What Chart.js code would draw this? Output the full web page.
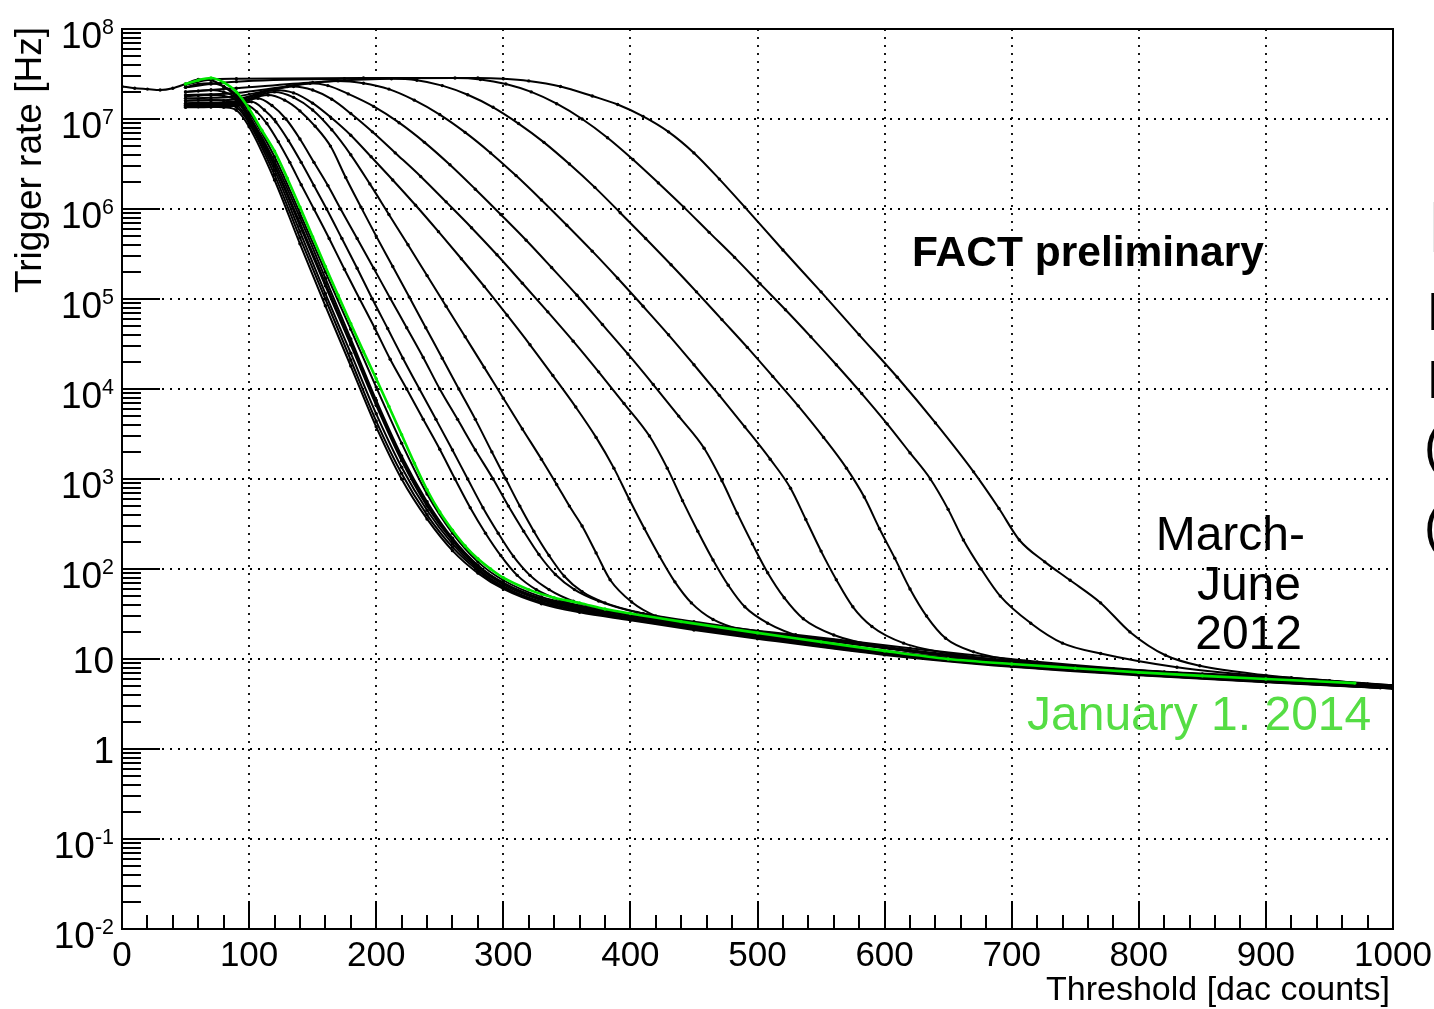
<!DOCTYPE html>
<html>
<head>
<meta charset="utf-8">
<title>FACT trigger rate scans</title>
<script src="https://cdn.jsdelivr.net/npm/chart.js@4.4.1/dist/chart.umd.min.js"></script>
<style>
  html, body { margin: 0; padding: 0; background: #fff; overflow: hidden; }
  #wrap { position: relative; width: 1434px; height: 1009px; overflow: hidden; }
  #rateChart { position: absolute; left: 0; top: 0; }
  .lbl { position: absolute; font-family: "Liberation Sans", Arial, Helvetica, sans-serif; color: #000; white-space: nowrap; line-height: 1; }
  .lbl .ex { position: relative; top: -0.66em; font-size: 0.58em; }
</style>
</head>
<body>
<div id="wrap"><canvas id="rateChart" width="1434" height="1009"></canvas></div>
<script>
// threshold [dac counts], rate [Hz]
const jan2014 = [[50,2.45e7],[60,2.7e7],[70,2.85e7],[80,2.55e7],[90,2.0e7],[100,1.3e7],[110,7.5e6],[120,4.4e6],[130,2.2e6],[140,1.05e6],[150,4.9e5],[160,2.3e5],[170,1.1e5],[180,5.3e4],[190,2.6e4],[200,1.3e4],[210,6.4e3],[220,3.1e3],[230,1.5e3],[240,760],[250,430],[260,270],[270,180],[280,130],[290,100],[300,80],[320,59],[340,48],[360,42],[380,36],[400,32],[440,26],[500,19.5],[550,15.5],[600,12.3],[650,10],[700,8.8],[750,7.9],[800,7.1],[850,6.5],[900,6.0],[970,5.4]];

const dark1 = [[0,2.3e7],[10,2.2e7],[20,2.15e7],[30,2.1e7],[40,2.2e7],[50,2.45e7],[60,2.75e7],[70,2.7e7],[80,2.3e7],[90,1.75e7],[100,1.1e7],[120,3.4e6],[140,8e5],[160,1.7e5],[180,3.6e4],[200,7.5e3],[220,1.8e3],[240,560],[260,220],[280,110],[300,70],[330,47],[360,38],[400,30],[450,23.5],[500,18.5],[600,11.8],[700,8.6],[800,6.9],[900,5.8],[1000,4.8]];
const dark2 = [[50,2.25e7],[60,2.45e7],[70,2.5e7],[80,2.3e7],[90,1.85e7],[100,1.2e7],[120,3.8e6],[140,9e5],[160,2e5],[180,4.6e4],[200,1.05e4],[220,2.5e3],[240,680],[260,250],[280,120],[300,75],[330,49],[360,39],[400,30.5],[450,24],[500,19],[600,12],[700,8.7],[800,7],[900,5.9],[1000,4.9]];
const dark3 = [[50,2.0e7],[60,2.05e7],[70,2.1e7],[80,2.0e7],[90,1.7e7],[100,1.05e7],[120,3.1e6],[140,7e5],[160,1.5e5],[180,3.3e4],[200,7e3],[220,1.7e3],[240,520],[260,210],[280,108],[300,70],[330,46],[360,37],[400,29],[450,23],[500,18.2],[600,11.7],[700,8.5],[800,6.9],[900,5.8],[960,5.2]];
const dark4 = [[50,1.8e7],[60,1.82e7],[70,1.85e7],[80,1.8e7],[90,1.6e7],[100,1.0e7],[120,3.0e6],[140,6.5e5],[160,1.4e5],[180,3.1e4],[200,6.6e3],[220,1.6e3],[240,500],[260,205],[280,105],[300,67],[330,45],[360,36],[400,28.5],[450,22.5],[500,18],[600,11.6],[700,8.5],[800,6.8],[900,5.7],[1000,4.7]];
const dark5 = [[50,1.6e7],[60,1.62e7],[70,1.63e7],[80,1.6e7],[90,1.45e7],[100,9.5e6],[120,2.7e6],[140,5.6e5],[160,1.15e5],[180,2.5e4],[200,5.3e3],[220,1.35e3],[240,450],[260,190],[280,100],[300,64],[330,43],[360,35],[400,28],[450,22],[500,17.6],[600,11.4],[700,8.4],[800,6.7],[900,5.6],[990,4.8]];
const dark6 = [[50,1.48e7],[60,1.5e7],[70,1.5e7],[80,1.47e7],[90,1.35e7],[100,9e6],[120,2.4e6],[140,4.8e5],[160,1e5],[180,2.1e4],[200,4.4e3],[220,1.15e3],[240,400],[260,175],[280,96],[300,62],[330,42],[360,34],[400,27.5],[450,21.5],[500,17.2],[600,11.3],[700,8.3],[800,6.7],[900,5.6],[1000,4.7]];
const dark7 = [[50,1.36e7],[60,1.37e7],[70,1.37e7],[80,1.35e7],[90,1.25e7],[100,8.2e6],[120,2.1e6],[140,4.1e5],[160,8.4e4],[180,1.8e4],[200,3.8e3],[220,1.0e3],[240,360],[260,160],[280,90],[300,60],[330,41],[360,33],[400,27],[450,21],[500,16.8],[600,11.1],[700,8.2],[800,6.6],[900,5.5],[1000,4.7]];

const moon01 = [[50,1.35e7],[70,1.36e7],[90,1.4e7],[97,1.45e7],[106,1.2e7],[114,8.9e6],[123,5.6e6],[132,3.3e6],[141,1.86e6],[151,1e6],[163,4.7e5],[175,2.14e5],[187,1e5],[199,4.7e4],[211,2.14e4],[224,1e4],[237,4.6e3],[250,2.14e3],[262,1e3],[274,480],[286,250],[298,141],[311,85],[326,59],[345,45],[375,35],[410,29],[460,23.4],[520,18.6],[600,13.2],[700,9.1],[800,7.2],[900,6.0],[1000,5.0]];
const moon02 = [[50,1.38e7],[70,1.39e7],[90,1.43e7],[102,1.55e7],[112,1.26e7],[121,9.3e6],[131,5.75e6],[141,3.3e6],[151,1.82e6],[161,1e6],[173,4.7e5],[185,2.2e5],[197,1e5],[209,4.7e4],[221,2.2e4],[234,1e4],[247,4.6e3],[260,2.1e3],[272,1e3],[284,480],[296,250],[308,138],[321,85],[336,59],[355,44],[385,34],[420,28],[470,22.4],[530,17.8],[620,12.3],[720,8.9],[820,7.1],[920,6.0],[1000,5.0]];
const moon03 = [[50,1.4e7],[70,1.41e7],[90,1.46e7],[107,1.7e7],[118,1.41e7],[129,1e7],[140,6.0e6],[151,3.3e6],[162,1.82e6],[172,1e6],[185,4.7e5],[198,2.2e5],[211,1.02e5],[224,4.8e4],[237,2.24e4],[250,1e4],[264,4.6e3],[278,2.1e3],[292,1e3],[304,500],[316,263],[328,145],[341,87],[356,59],[375,44],[405,33],[450,26],[500,20.4],[560,16.2],[650,11.2],[750,8.3],[850,6.8],[950,5.75],[1000,5.1]];
const moon04 = [[50,1.42e7],[70,1.43e7],[90,1.5e7],[115,1.85e7],[128,1.62e7],[140,1.23e7],[152,8.3e6],[164,5.0e6],[176,2.24e6],[188,1.05e6],[200,5.0e5],[213,2.3e5],[226,1.05e5],[239,4.8e4],[252,2.2e4],[265,1e4],[278,4.6e3],[291,2.0e3],[302,1e3],[313,500],[324,263],[336,141],[348,83],[362,56],[380,42],[410,32],[460,24],[530,18.6],[620,13.2],[720,9.3],[820,7.2],[920,6.2],[1000,5.0]];
const moon05 = [[50,1.45e7],[70,1.46e7],[90,1.52e7],[120,2.0e7],[135,1.74e7],[150,1.26e7],[165,7.6e6],[180,4.0e6],[195,1.9e6],[210,8.7e5],[225,4.0e5],[240,1.82e5],[255,8.3e4],[270,3.8e4],[285,1.74e4],[300,7.9e3],[315,3.6e3],[330,1.66e3],[342,870],[352,500],[362,300],[373,151],[384,76],[401,43],[420,30],[450,23],[500,17.8],[580,13.2],[680,9.3],[780,7.2],[880,6.2],[1000,5.0]];
const moon06 = [[50,1.5e7],[70,1.51e7],[90,1.57e7],[105,1.85e7],[120,2.1e7],[135,1.95e7],[150,1.5e7],[164,1.05e7],[180,6.6e6],[196,3.8e6],[213,2.1e6],[231,1.1e6],[249,5.6e5],[267,2.8e5],[285,1.38e5],[303,6.6e4],[321,3.1e4],[339,1.41e4],[357,6.3e3],[373,2.9e3],[387,1.32e3],[399,600],[411,282],[423,138],[435,72],[448,42],[465,27.5],[490,20.5],[535,15.5],[605,11.3],[700,8.8],[800,7.1],[900,6.0],[1000,5.0]];
const moon07 = [[50,1.6e7],[70,1.61e7],[90,1.66e7],[112,2.0e7],[135,2.3e7],[150,2.1e7],[165,1.66e7],[180,1.15e7],[197,7.2e6],[215,4.2e6],[235,2.3e6],[255,1.2e6],[275,6.2e5],[295,3.1e5],[315,1.5e5],[335,7.2e4],[355,3.4e4],[375,1.55e4],[395,6.9e3],[415,3.0e3],[429,1.32e3],[441,575],[453,263],[465,126],[477,66],[490,38],[508,25],[535,17.5],[580,13.3],[650,10.2],[750,7.8],[850,6.5],[950,5.6],[1000,5.1]];
const moon08 = [[50,1.7e7],[70,1.72e7],[90,1.78e7],[120,2.15e7],[148,2.5e7],[162,2.35e7],[178,1.9e7],[198,1.38e7],[218,9.1e6],[238,5.5e6],[258,3.1e6],[278,1.66e6],[298,8.7e5],[318,4.5e5],[338,2.24e5],[358,1.1e5],[378,5.2e4],[398,2.45e4],[418,1.12e4],[438,5.0e3],[458,2.2e3],[472,955],[484,417],[496,190],[508,91],[521,48],[536,28],[560,18.5],[600,13.5],[670,10],[770,7.6],[870,6.3],[980,5.25]];
const moon09 = [[50,1.85e7],[70,1.88e7],[90,1.95e7],[130,2.3e7],[170,2.65e7],[190,2.5e7],[210,2.15e7],[230,1.62e7],[250,1.12e7],[270,7.1e6],[290,4.2e6],[310,2.35e6],[330,1.26e6],[350,6.6e5],[370,3.4e5],[390,1.7e5],[410,8.3e4],[430,4.0e4],[450,1.86e4],[470,8.5e3],[490,3.8e3],[510,1.66e3],[526,790],[538,355],[550,158],[562,76],[575,38],[590,23],[615,15],[660,11],[730,8.6],[830,7.0],[930,5.9],[1000,5.0]];
const moon10 = [[50,2.0e7],[70,2.1e7],[90,2.2e7],[150,2.55e7],[212,2.8e7],[232,2.7e7],[252,2.35e7],[272,1.86e7],[292,1.35e7],[312,8.9e6],[332,5.5e6],[352,3.16e6],[372,1.74e6],[392,9.1e5],[412,4.7e5],[432,2.4e5],[452,1.2e5],[472,5.9e4],[492,2.9e4],[512,1.38e4],[532,6.5e3],[552,2.9e3],[570,1.32e3],[584,630],[596,280],[608,132],[620,60],[633,30],[648,17],[670,12],[710,9.4],[780,7.8],[880,6.3],[980,5.25]];
const moon11 = [[50,2.25e7],[70,2.45e7],[90,2.6e7],[175,2.8e7],[262,2.85e7],[282,2.75e7],[302,2.45e7],[322,2.0e7],[342,1.48e7],[362,1.0e7],[382,6.2e6],[402,3.55e6],[422,1.95e6],[442,1.05e6],[462,5.5e5],[482,2.9e5],[502,1.48e5],[522,7.6e4],[542,3.8e4],[562,1.86e4],[582,8.9e3],[602,4.1e3],[620,1.95e3],[636,1.0e3],[650,460],[662,210],[676,100],[691,50],[715,25],[740,15],[770,11.5],[830,8.1],[930,5.9],[1000,5.0]];
const moon12 = [[50,2.4e7],[70,2.75e7],[90,2.8e7],[190,2.85e7],[280,2.85e7],[300,2.8e7],[320,2.65e7],[345,2.3e7],[370,1.8e7],[390,1.45e7],[410,1.07e7],[430,7.2e6],[450,4.2e6],[470,2.15e6],[490,1.05e6],[520,3.5e5],[550,1.2e5],[580,4e4],[610,1.35e4],[640,4.2e3],[670,1.2e3],[690,470],[706,210],[726,120],[746,75],[770,42],[793,20],[821,11],[848,8.4],[900,6.6],[950,5.7],[1000,5.0]];

const blackNights = [dark1, dark2, dark3, dark4, dark5, dark6, dark7,
  moon01, moon02, moon03, moon04, moon05, moon06, moon07, moon08, moon09, moon10, moon11, moon12];

const xTicks = [0, 100, 200, 300, 400, 500, 600, 700, 800, 900, 1000];
const yDecades = [-2, -1, 0, 1, 2, 3, 4, 5, 6, 7, 8];

function lineSet(pts, color, width) {
  return {
    data: pts.map(p => ({ x: p[0], y: p[1] })),
    borderColor: color,
    borderWidth: width,
    pointRadius: 1.7,
    pointBackgroundColor: color,
    pointBorderWidth: 0,
    pointHoverRadius: 0,
    cubicInterpolationMode: 'monotone',
    fill: false
  };
}

const rootFrame = {
  id: 'rootFrame',
  beforeDatasetsDraw(chart) {
    const { ctx, chartArea: a, scales: { x, y } } = chart;
    ctx.save();
    ctx.strokeStyle = '#000';
    ctx.lineWidth = 1.8;
    ctx.setLineDash([2, 6]);
    ctx.beginPath();
    xTicks.slice(1, -1).forEach(v => {
      const px = Math.round(x.getPixelForValue(v));
      ctx.moveTo(px, a.top); ctx.lineTo(px, a.bottom);
    });
    yDecades.slice(1, -1).forEach(e => {
      const py = Math.round(y.getPixelForValue(Math.pow(10, e)));
      ctx.moveTo(a.left, py); ctx.lineTo(a.right, py);
    });
    ctx.stroke();
    ctx.restore();
  },
  afterDatasetsDraw(chart) {
    const { ctx, chartArea: a, scales: { x, y } } = chart;
    ctx.save();
    ctx.strokeStyle = '#000';
    ctx.setLineDash([]);
    ctx.lineWidth = 2;
    ctx.strokeRect(a.left, a.top, a.right - a.left, a.bottom - a.top);
    ctx.beginPath();
    // x ticks: major every 100, minor every 20, pointing up
    for (let v = 0; v <= 1000; v += 20) {
      const px = Math.round(x.getPixelForValue(v));
      const len = v % 100 === 0 ? 28 : 14;
      ctx.moveTo(px, a.bottom); ctx.lineTo(px, a.bottom - len);
    }
    // y ticks: decades and 2..9 sub-ticks, pointing right
    for (let e = -2; e <= 8; e++) {
      for (let m = 1; m <= 9; m++) {
        const v = m * Math.pow(10, e);
        if (v > 1e8) break;
        const py = Math.round(y.getPixelForValue(v));
        const len = m === 1 ? 38 : 19;
        ctx.moveTo(a.left, py); ctx.lineTo(a.left + len, py);
      }
    }
    ctx.stroke();
    ctx.restore();
  }
};

const datasets = [lineSet(jan2014, '#00e600', 2.6)]
  .concat(blackNights.map(n => lineSet(n, '#000', 2)));

const chart = new Chart(document.getElementById('rateChart'), {
  type: 'line',
  data: { datasets: datasets },
  options: {
    responsive: false,
    animation: false,
    events: [],
    layout: { padding: { left: 122, right: 41, top: 29, bottom: 80 } },
    plugins: { legend: { display: false }, tooltip: { enabled: false } },
    scales: {
      x: { type: 'linear', min: 0, max: 1000, display: false },
      y: { type: 'logarithmic', min: 1e-2, max: 1e8, display: false }
    }
  },
  plugins: [rootFrame]
});

// text overlay
const wrap = document.getElementById('wrap');
function addLabel(html, style) {
  const d = document.createElement('div');
  d.className = 'lbl';
  d.innerHTML = html;
  Object.assign(d.style, style);
  wrap.appendChild(d);
  return d;
}

const xs = chart.scales.x, ys = chart.scales.y;
xTicks.forEach(v => {
  const px = xs.getPixelForValue(v);
  addLabel(String(v), { left: px + 'px', top: '936px', fontSize: '35px', transform: 'translateX(-50%)' });
});
yDecades.forEach(e => {
  const py = ys.getPixelForValue(Math.pow(10, e));
  let html, top;
  if (e === 0) { html = '1'; top = py - 17; }
  else if (e === 1) { html = '10'; top = py - 17; }
  else { html = '10<span class="ex">' + e + '</span>'; top = py - 12; }
  addLabel(html, { right: (1434 - 114) + 'px', top: top + 'px', fontSize: '37px' });
});

addLabel('Threshold [dac counts]', { right: (1434 - 1390) + 'px', top: '971px', fontSize: '34px' });
addLabel('Trigger rate [Hz]', { left: '10px', top: '293px', fontSize: '37px', transformOrigin: '0 0', transform: 'rotate(-90deg)' });

addLabel('FACT preliminary', { left: '912px', top: '231px', fontSize: '42.5px', fontWeight: 'bold' });
addLabel('March-', { right: (1434 - 1305) + 'px', top: '510px', fontSize: '48px' });
addLabel('June', { right: (1434 - 1301) + 'px', top: '560px', fontSize: '48px' });
addLabel('2012', { right: (1434 - 1302) + 'px', top: '609px', fontSize: '48px' });
addLabel('January 1. 2014', { left: '1027px', top: '690px', fontSize: '48px', color: '#55dd44' });

// slide text cut off at the right edge
addLabel('L', { left: '1428px', top: '191px', fontSize: '72px', fontWeight: '300' });
addLabel('E', { left: '1427px', top: '285px', fontSize: '53px' });
addLabel('E', { left: '1427px', top: '353px', fontSize: '53px' });
addLabel('(', { left: '1424px', top: '419px', fontSize: '53px' });
addLabel('(', { left: '1424px', top: '499px', fontSize: '53px' });
</script>
</body>
</html>
